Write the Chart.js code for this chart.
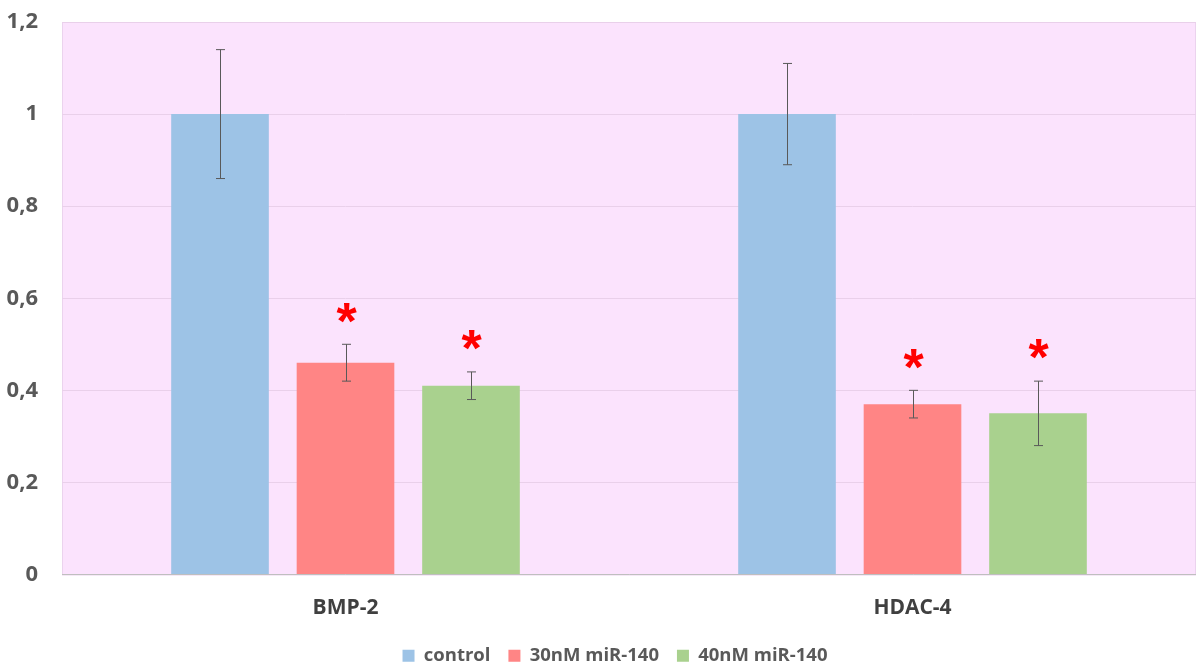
<!DOCTYPE html>
<html>
<head>
<meta charset="utf-8">
<script src="https://cdn.jsdelivr.net/npm/chart.js@4.4.1/dist/chart.umd.min.js"></script>
<style>
  html, body { margin: 0; padding: 0; background: #ffffff; }
  #wrap { width: 1196px; height: 664px; }
</style>
</head>
<body>
<div id="wrap"><canvas id="c" width="1196" height="664"></canvas></div>
<script>
const categories = ['BMP-2', 'HDAC-4'];
const seriesNames = ['control', '30nM miR-140', '40nM miR-140'];
const controlValues = [1.0, 1.0];
const nm30Values = [0.46, 0.37];
const nm40Values = [0.41, 0.35];
const controlErrors = [0.14, 0.11];
const nm30Errors = [0.04, 0.03];
const nm40Errors = [0.03, 0.07];
const controlSignificant = [false, false];
const nm30Significant = [true, true];
const nm40Significant = [true, true];
const yTicks = [0, 0.2, 0.4, 0.6, 0.8, 1.0, 1.2];

const colors = ['#9DC3E6', '#FF8585', '#A9D18E'];
const errorSets = [controlErrors, nm30Errors, nm40Errors];
const sigSets = [controlSignificant, nm30Significant, nm40Significant];
const FONT = '"Open Sans", "Liberation Sans", sans-serif';

const bgPlugin = {
  id: 'plotBg',
  afterLayout(chart) {
    if (chart.legend) { chart.legend.left += 17; chart.legend.right += 17; }
  },
  beforeDraw(chart) {
    const { ctx, chartArea: a } = chart;
    ctx.save();
    ctx.fillStyle = '#FBE3FD';
    ctx.fillRect(a.left, a.top, a.right - a.left, a.bottom - a.top);
    ctx.strokeStyle = '#EBD3EE';
    ctx.lineWidth = 1;
    ctx.strokeRect(a.left + 0.5, a.top + 0.5, a.right - a.left - 1, a.bottom - a.top);
    ctx.restore();
  }
};

const errPlugin = {
  id: 'errBars',
  afterDatasetsDraw(chart) {
    const { ctx } = chart;
    const y = chart.scales.y;
    ctx.save();
    chart.data.datasets.forEach((ds, di) => {
      const meta = chart.getDatasetMeta(di);
      meta.data.forEach((bar, i) => {
        const v = ds.data[i];
        const e = errorSets[di][i];
        const x = Math.round(bar.x) + 0.5;
        const yt = y.getPixelForValue(v + e);
        const yb = y.getPixelForValue(v - e);
        ctx.strokeStyle = '#595959';
        ctx.lineWidth = 1;
        ctx.beginPath();
        ctx.moveTo(x, yt); ctx.lineTo(x, yb);
        ctx.moveTo(x - 4.5, yt); ctx.lineTo(x + 4.5, yt);
        ctx.moveTo(x - 4.5, yb); ctx.lineTo(x + 4.5, yb);
        ctx.stroke();
        if (sigSets[di][i]) {
          ctx.fillStyle = '#FF0000';
          ctx.font = 'bold 52px "Liberation Sans", sans-serif';
          ctx.textAlign = 'center';
          ctx.textBaseline = 'middle';
          ctx.fillText('*', x, yt - 20);
        }
      });
    });
    ctx.restore();
  }
};

new Chart(document.getElementById('c'), {
  type: 'bar',
  data: {
    labels: categories,
    datasets: [
      { label: seriesNames[0], data: controlValues, backgroundColor: colors[0] },
      { label: seriesNames[1], data: nm30Values, backgroundColor: colors[1] },
      { label: seriesNames[2], data: nm40Values, backgroundColor: colors[2] }
    ]
  },
  options: {
    responsive: false,
    animation: false,
    devicePixelRatio: 1,
    layout: { padding: { top: 22, right: 0, left: 0, bottom: -11 } },
    datasets: { bar: { categoryPercentage: 0.664, barPercentage: 0.778 } },
    scales: {
      x: {
        grid: { display: false, drawTicks: false },
        border: { display: true, color: '#BFBFBF', width: 1 },
        ticks: { padding: 21, color: '#404040', font: { family: FONT, size: 21, weight: 'bold' } },
        afterFit(s) { s.height = 54; }
      },
      y: {
        min: 0, max: 1.2,
        afterBuildTicks(s) { s.ticks = yTicks.map(v => ({ value: v })); },
        grid: { color: '#E9D0EA', drawTicks: false },
        border: { display: false },
        ticks: {
          padding: 24, color: '#595959',
          font: { family: FONT, size: 22, weight: 'bold' },
          callback: v => String(Math.round(v * 10) / 10).replace('.', ',')
        },
        afterFit(s) { s.width = 62; s.paddingTop = 0; s.paddingBottom = 0; }
      }
    },
    plugins: {
      legend: {
        position: 'bottom',
        labels: {
          boxWidth: 12, boxHeight: 12, padding: 18,
          color: '#595959',
          font: { family: FONT, size: 18.5, weight: 'bold' }
        }
      },
      tooltip: { enabled: false }
    }
  },
  plugins: [bgPlugin, errPlugin]
});
</script>
</body>
</html>
